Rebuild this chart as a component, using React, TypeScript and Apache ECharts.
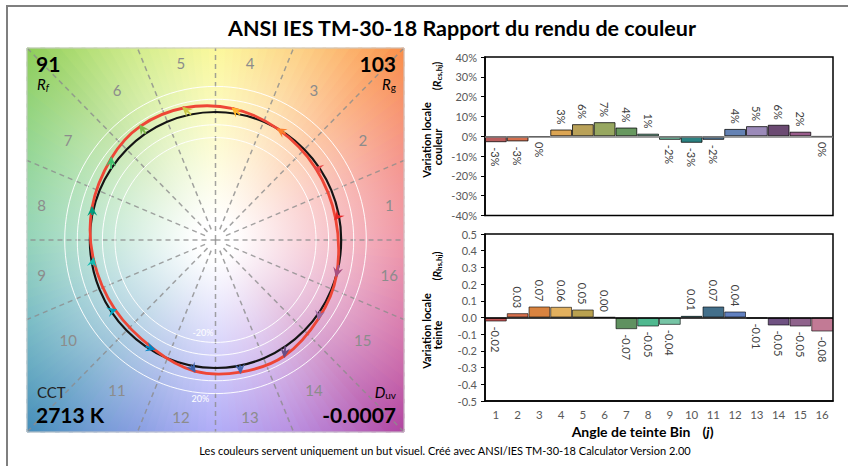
import { useEffect, useRef } from 'react';
import * as echarts from 'echarts';

const FONT = 'Lato, "Open Sans", "DejaVu Sans", sans-serif';

// ---------- data ----------
const binLabels = ['1', '2', '3', '4', '5', '6', '7', '8', '9', '10', '11', '12', '13', '14', '15', '16'];
// Local chroma shift R_cs,hj (%)
const chromaShiftPct = [-3.0, -2.6, -0.3, 3.4, 6.1, 7.1, 4.4, 1.3, -1.8, -3.3, -1.8, 3.7, 5.1, 5.8, 2.3, -0.2];
// Local hue shift R_hs,hj
const hueShift = [-0.024, 0.026, 0.066, 0.064, 0.048, 0.002, -0.07, -0.054, -0.044, 0.01, 0.066, 0.036, -0.006, -0.048, -0.054, -0.084];

const chromaBarColors = ['#b95c5c', '#d6704e', '#d98b48', '#dca553', '#b9a158', '#97a760', '#67985f', '#7cc2a6', '#6dbb9f', '#2b8282', '#4c7190', '#6482b4', '#9b8ab9', '#6b4a72', '#9a5c8c', '#b86a8a'];
const hueBarColors = ['#c05454', '#d8714e', '#d9833f', '#e2b05e', '#b9a150', '#97a760', '#5f9160', '#4fb88f', '#76c4a5', '#2b8a8a', '#436f8a', '#6281c0', '#8a78b0', '#6f5282', '#8f638c', '#c27a95'];
const binArrowColors = ['#e62828', '#e74b4b', '#fb812e', '#ffb529', '#cbca46', '#7eb94c', '#41c06d', '#009c7c', '#16bcb0', '#00a4bf', '#0085c3', '#3b62aa', '#4568ae', '#6a4e85', '#9d69a1', '#a74f81'];

// background hue wheel (every 22.5 deg, counter-clockwise from the right)
const panelHueColors = ['#e8647d', '#f06e64', '#fa8c46', '#fcc55f', '#faf56e', '#c3e664', '#8ccd55', '#6ec873', '#5fbe96', '#4ba5af', '#418cb9', '#5f7dd7', '#8c87f5', '#a069d7', '#af41a0', '#cd5091'];

const chromaAxis = { min: -40, max: 40, interval: 10 };
const hueAxis = { min: -0.5, max: 0.5, interval: 0.1 };
const ringLevels = [0.8, 0.9, 1.1, 1.2];

const fidelityIndex = '91';
const gamutIndex = '103';
const cctText = '2713 K';
const duvText = '-0.0007';

const titleText = 'ANSI IES TM-30-18 Rapport du rendu de couleur';
const footerText = 'Les couleurs servent uniquement un but visuel. Créé avec ANSI/IES TM-30-18 Calculator Version 2.00';

// ---------- helpers ----------
const DEG = Math.PI / 180;
const binAngle = (i: number) => (i + 0.5) * 22.5 * DEG;

const refPts = binLabels.map((_, i) => [Math.cos(binAngle(i)), Math.sin(binAngle(i))]);
const testPts = binLabels.map((_, i) => {
  const t = binAngle(i);
  const c = 1 + chromaShiftPct[i] / 100;
  const h = hueShift[i];
  return [c * Math.cos(t) - h * Math.sin(t), c * Math.sin(t) + h * Math.cos(t)];
});

function hexRgb(h: string) {
  const v = parseInt(h.slice(1), 16);
  return [(v >> 16) & 255, (v >> 8) & 255, v & 255];
}
function hueColorAt(angleDeg: number) {
  const a = ((angleDeg % 360) + 360) % 360;
  const k = a / 22.5;
  const i0 = Math.floor(k) % 16;
  const i1 = (i0 + 1) % 16;
  const f = k - Math.floor(k);
  const c0 = hexRgb(panelHueColors[i0]);
  const c1 = hexRgb(panelHueColors[i1]);
  const c = c0.map((v, j) => Math.round(v + (c1[j] - v) * f));
  return `rgb(${c[0]},${c[1]},${c[2]})`;
}

function makeRay(c: number[], u: number[], L: number, T: number, R: number, B: number) {
  return (aDeg: number) => {
    const dx = Math.cos(aDeg * DEG) * u[0];
    const dy = -Math.sin(aDeg * DEG) * u[1];
    let t = Infinity;
    if (dx > 1e-9) t = Math.min(t, (R - c[0]) / dx);
    if (dx < -1e-9) t = Math.min(t, (L - c[0]) / dx);
    if (dy > 1e-9) t = Math.min(t, (B - c[1]) / dy);
    if (dy < -1e-9) t = Math.min(t, (T - c[1]) / dy);
    return [c[0] + t * dx, c[1] + t * dy];
  };
}

function renderBackground(params: any, api: any) {
  const cs = params.coordSys;
  const L = cs.x, T = cs.y, R = cs.x + cs.width, B = cs.y + cs.height;
  const c = api.coord([0, 0]);
  const u = api.size([1, 1]);
  const ray = makeRay(c, u, L, T, R, B);
  const corners = [[R, T], [L, T], [L, B], [R, B]].map((p) => {
    let a = Math.atan2(-(p[1] - c[1]) / u[1], (p[0] - c[0]) / u[0]) / DEG;
    a = ((a % 360) + 360) % 360;
    return { p, a };
  });
  const children: any[] = [];
  const step = 2.5;
  for (let a = 0; a < 360; a += step) {
    const a0 = a - 0.4;
    const a1 = a + step + 0.4;
    const pts: number[][] = [c, ray(a0)];
    corners.forEach((k) => {
      const d = (((k.a - a0) % 360) + 360) % 360;
      if (d > 0 && d < a1 - a0) pts.push(k.p);
    });
    pts.push(ray(a1));
    const col = hueColorAt(a + step / 2);
    const grad = new echarts.graphic.RadialGradient(c[0], c[1], 272, [
      { offset: 0, color: '#ffffff' },
      { offset: 0.07, color: '#ffffff' },
      { offset: 1, color: col },
    ], true);
    children.push({ type: 'polygon', shape: { points: pts }, style: { fill: grad, stroke: grad, lineWidth: 0.6 } });
  }
  return { type: 'group', children };
}

function renderRings(params: any, api: any) {
  const cs = params.coordSys;
  const L = cs.x, T = cs.y, R = cs.x + cs.width, B = cs.y + cs.height;
  const c = api.coord([0, 0]);
  const u = api.size([1, 1]);
  const ray = makeRay(c, u, L, T, R, B);
  const children: any[] = [];
  for (let k = 0; k < 16; k++) {
    const a = k * 22.5;
    const p = ray(a);
    const full = k % 4 === 0;
    const s = full ? 0 : 0.09;
    const x0 = c[0] + s * Math.cos(a * DEG) * u[0];
    const y0 = c[1] - s * Math.sin(a * DEG) * u[1];
    children.push({
      type: 'line',
      shape: { x1: x0, y1: y0, x2: p[0], y2: p[1] },
      style: { stroke: 'rgba(140,140,140,0.8)', lineWidth: 1.5, lineDash: [5, 4] },
    });
  }
  ringLevels.forEach((r) => {
    children.push({
      type: 'ellipse',
      shape: { cx: c[0], cy: c[1], rx: r * u[0], ry: r * u[1] },
      style: { fill: 'none', stroke: 'rgba(255,255,255,0.95)', lineWidth: 1 },
    });
  });
  children.push({
    type: 'ellipse',
    shape: { cx: c[0], cy: c[1], rx: u[0], ry: u[1] },
    style: { fill: 'none', stroke: '#141414', lineWidth: 2.2 },
  });
  binLabels.forEach((lab, i) => {
    const t = binAngle(i);
    const x = c[0] + 1.41 * Math.cos(t) * u[0];
    const y = c[1] - 1.41 * Math.sin(t) * u[1];
    children.push({
      type: 'text', x, y,
      style: { text: lab, fill: '#8c8c8c', fontSize: 15, fontFamily: FONT, align: 'center', verticalAlign: 'middle', textAlign: 'center', textVerticalAlign: 'middle' },
    });
  });
  const pctLabels = [
    { text: '-20%', x: -0.1, y: -0.72 },
    { text: '20%', x: -0.12, y: -1.235 },
  ];
  pctLabels.forEach((p) => {
    const q = api.coord([p.x, p.y]);
    children.push({
      type: 'text', x: q[0], y: q[1],
      style: { text: p.text, fill: '#ffffff', fontSize: 9, fontFamily: FONT, align: 'center', verticalAlign: 'middle', textAlign: 'center', textVerticalAlign: 'middle' },
    });
  });
  return { type: 'group', children };
}

// closed Catmull-Rom curve through the test points, one bezier segment per bin
function renderCurve(params: any, api: any) {
  const n = testPts.length;
  const i = params.dataIndex;
  const P = (k: number) => api.coord(testPts[((k % n) + n) % n]);
  const p0 = P(i - 1), p1 = P(i), p2 = P(i + 1), p3 = P(i + 2);
  return {
    type: 'bezierCurve',
    shape: {
      x1: p1[0], y1: p1[1], x2: p2[0], y2: p2[1],
      cpx1: p1[0] + (p2[0] - p0[0]) / 6, cpy1: p1[1] + (p2[1] - p0[1]) / 6,
      cpx2: p2[0] - (p3[0] - p1[0]) / 6, cpy2: p2[1] - (p3[1] - p1[1]) / 6,
    },
    style: { fill: 'none', stroke: '#ee4636', lineWidth: 2.8, lineCap: 'round' },
  };
}

function renderArrow(params: any, api: any) {
  const i = params.dataIndex;
  const p0 = api.coord([api.value(0), api.value(1)]);
  const p1 = api.coord([api.value(2), api.value(3)]);
  let dx = p1[0] - p0[0];
  let dy = p1[1] - p0[1];
  let len = Math.hypot(dx, dy);
  if (len < 1e-6) { dx = 0; dy = -1; len = 1; }
  const ux = dx / len, uy = dy / len;
  const nx = -uy, ny = ux;
  const tip = [p1[0] + ux * 2, p1[1] + uy * 2];
  const headLen = 10, halfW = 5;
  const back = [tip[0] - ux * headLen, tip[1] - uy * headLen];
  const notch = [tip[0] - ux * headLen * 0.62, tip[1] - uy * headLen * 0.62];
  const color = binArrowColors[i];
  return {
    type: 'group',
    children: [
      { type: 'line', shape: { x1: p0[0], y1: p0[1], x2: p1[0], y2: p1[1] }, style: { stroke: color, lineWidth: 2 } },
      {
        type: 'polygon',
        shape: { points: [tip, [back[0] + nx * halfW, back[1] + ny * halfW], notch, [back[0] - nx * halfW, back[1] - ny * halfW]] },
        style: { fill: color },
      },
    ],
  };
}

function txt(x: number, y: number, text: string, o: any = {}) {
  const align = o.align || 'left';
  return {
    type: 'text', x, y, z: 100, rotation: o.rotation || 0, silent: true,
    style: {
      text,
      fill: o.fill || '#000',
      fontSize: o.size || 12,
      fontWeight: o.weight || 'normal',
      fontStyle: o.style || 'normal',
      fontFamily: FONT,
      lineHeight: o.lineHeight,
      align, textAlign: align,
      verticalAlign: 'middle', textVerticalAlign: 'middle',
      rich: o.rich,
    },
  };
}

function buildOption() {
  const arrowData = testPts.map((p, i) => [refPts[i][0], refPts[i][1], p[0], p[1]]);

  const labelBase = { show: true, rotate: -90, fontSize: 11, color: '#404040', fontFamily: FONT, distance: 5, verticalAlign: 'middle' };

  const chromaData = chromaShiftPct.map((v, i) => ({
    value: v,
    itemStyle: { color: chromaBarColors[i] },
    label: { position: v < 0 ? 'bottom' : 'top', align: v < 0 ? 'left' : 'right' },
  }));
  const hueData = hueShift.map((v, i) => ({
    value: v,
    itemStyle: { color: hueBarColors[i] },
    label: { position: v < 0 ? 'bottom' : 'top', align: v < 0 ? 'left' : 'right' },
  }));

  const sub = { fontSize: 8, fontWeight: 'bold', fontFamily: FONT, color: '#000', verticalAlign: 'bottom', lineHeight: 14 };
  const big = { fontSize: 11, fontWeight: 'bold', fontFamily: FONT, color: '#000', lineHeight: 14 };
  const bigI = { ...big, fontStyle: 'italic' };

  const statR = { fontSize: 15, fontStyle: 'italic', fontFamily: FONT, color: '#000', lineHeight: 15 };
  const statSub = { fontSize: 10, fontFamily: FONT, color: '#000', verticalAlign: 'bottom', lineHeight: 9 };
  const statSubI = { ...statSub, fontStyle: 'italic' };

  return {
    animation: false,
    textStyle: { fontFamily: FONT },
    grid: [
      { left: 27, top: 48, width: 377, height: 384, show: false },
      { left: 485, top: 57, width: 348, height: 158.5, show: true, borderColor: '#000', borderWidth: 1.5, backgroundColor: 'transparent' },
      { left: 485, top: 234, width: 348, height: 167, show: true, borderColor: '#000', borderWidth: 1.5, backgroundColor: 'transparent' },
    ],
    xAxis: [
      { gridIndex: 0, type: 'value', min: -1.5, max: 1.5, show: false },
      { gridIndex: 1, type: 'category', data: binLabels, axisLabel: { show: false }, axisTick: { show: false }, axisLine: { show: false } },
      {
        gridIndex: 2, type: 'category', data: binLabels,
        axisLabel: { fontSize: 11.5, color: '#595959', margin: 7, fontFamily: FONT },
        axisTick: { show: false },
        axisLine: { show: true, onZero: false, lineStyle: { color: '#000', width: 1.5 } },
      },
    ],
    yAxis: [
      { gridIndex: 0, type: 'value', min: -1.5, max: 1.5, show: false },
      {
        gridIndex: 1, type: 'value', ...chromaAxis,
        axisLabel: { formatter: '{value}%', fontSize: 11, color: '#595959', margin: 8, fontFamily: FONT },
        axisTick: { show: true, length: 4, lineStyle: { color: '#000' } },
        axisLine: { show: true, lineStyle: { color: '#000', width: 1.5 } },
        splitLine: { show: false },
      },
      {
        gridIndex: 2, type: 'value', ...hueAxis,
        axisLabel: { formatter: (v: number) => (Math.abs(v) < 1e-9 ? 0 : v).toFixed(1), fontSize: 11, color: '#595959', margin: 8, fontFamily: FONT },
        axisTick: { show: true, length: 4, lineStyle: { color: '#000' } },
        axisLine: { show: true, lineStyle: { color: '#000', width: 1.5 } },
        splitLine: { show: false },
      },
    ],
    series: [
      { type: 'custom', xAxisIndex: 0, yAxisIndex: 0, data: [[0, 0]], renderItem: renderBackground, silent: true, z: 1 },
      { type: 'custom', xAxisIndex: 0, yAxisIndex: 0, data: [[0, 0]], renderItem: renderRings, silent: true, z: 2 },
      { type: 'custom', xAxisIndex: 0, yAxisIndex: 0, data: testPts, renderItem: renderCurve, silent: true, z: 3 },
      {
        type: 'custom', xAxisIndex: 0, yAxisIndex: 0, data: arrowData, renderItem: renderArrow, silent: true, z: 4,
        encode: { x: [0, 2], y: [1, 3] },
      },
      {
        type: 'bar', xAxisIndex: 1, yAxisIndex: 1, data: chromaData, barCategoryGap: '0%',
        itemStyle: { borderColor: 'rgba(0,0,0,0.75)', borderWidth: 1 },
        label: { ...labelBase, formatter: (p: any) => `${Math.round(p.value)}%` },
        markLine: { silent: true, symbol: ['none', 'none'], label: { show: false }, lineStyle: { color: '#7f7f7f', type: 'solid', width: 1.5 }, data: [{ yAxis: 0 }] },
      },
      {
        type: 'bar', xAxisIndex: 2, yAxisIndex: 2, data: hueData, barCategoryGap: '0%',
        itemStyle: { borderColor: 'rgba(0,0,0,0.6)', borderWidth: 1 },
        label: { ...labelBase, formatter: (p: any) => { const s = p.value.toFixed(2); return s === '-0.00' ? '0.00' : s; } },
        markLine: { silent: true, symbol: ['none', 'none'], label: { show: false }, lineStyle: { color: '#000', type: 'solid', width: 1.5 }, data: [{ yAxis: 0 }] },
      },
    ],
    graphic: {
      elements: [
        { type: 'rect', z: 100, silent: true, shape: { x: 7, y: 6, width: 900, height: 500 }, style: { fill: 'none', stroke: '#7f7f7f', lineWidth: 2 } },
        { type: 'rect', z: 100, silent: true, shape: { x: 27, y: 48, width: 377, height: 384 }, style: { fill: 'none', stroke: '#c8c8c8', lineWidth: 1 } },
        txt(462, 28, titleText, { size: 21.5, weight: 'bold', align: 'center' }),
        txt(445, 450, footerText, { size: 11, align: 'center' }),
        // stats
        txt(36, 63, fidelityIndex, { size: 21, weight: 'bold', lineHeight: 20 }),
        txt(37, 84, '{r|R}{s|f}', { rich: { r: statR, s: statSubI } }),
        txt(396, 63, gamutIndex, { size: 21, weight: 'bold', align: 'right', lineHeight: 20 }),
        txt(396, 84, '{r|R}{s|g}', { align: 'right', rich: { r: statR, s: statSub } }),
        txt(37, 392, 'CCT', { size: 15, fill: '#222', lineHeight: 15 }),
        txt(36, 414, cctText, { size: 21, weight: 'bold', lineHeight: 20 }),
        txt(396, 392, '{r|D}{s|uv}', { align: 'right', rich: { r: statR, s: statSub } }),
        txt(396, 414, duvText, { size: 21, weight: 'bold', align: 'right', lineHeight: 20 }),
        // y titles
        txt(426, 140, 'Variation locale', { size: 11, weight: 'bold', align: 'center', rotation: Math.PI / 2 }),
        txt(437.5, 147, 'couleur', { size: 11, weight: 'bold', align: 'center', rotation: Math.PI / 2 }),
        txt(436, 76, '{b|(}{i|R}{s|cs,hj}{b|)}', { size: 11, align: 'center', rotation: Math.PI / 2, rich: { b: big, i: bigI, s: sub } }),
        txt(426, 331, 'Variation locale', { size: 11, weight: 'bold', align: 'center', rotation: Math.PI / 2 }),
        txt(437.5, 335, 'teinte', { size: 11, weight: 'bold', align: 'center', rotation: Math.PI / 2 }),
        txt(436, 266, '{b|(}{i|R}{s|hs,hj}{b|)}', { size: 11, align: 'center', rotation: Math.PI / 2, rich: { b: big, i: bigI, s: sub } }),
        // x title
        txt(631, 431, 'Angle de teinte Bin', { size: 14, weight: 'bold', align: 'center' }),
        txt(708, 431, '{b|(}{i|j}{b|)}', { size: 14, align: 'center', rich: { b: { fontSize: 14, fontWeight: 'bold', fontFamily: FONT }, i: { fontSize: 14, fontWeight: 'bold', fontStyle: 'italic', fontFamily: FONT } } }),
      ],
    },
  };
}

export default function App() {
  const ref = useRef<HTMLDivElement>(null);
  useEffect(() => {
    if (!ref.current) return;
    const chart = echarts.init(ref.current, undefined, { renderer: 'svg' });
    chart.setOption(buildOption() as any);
    return () => chart.dispose();
  }, []);
  return <div ref={ref} style={{ position: 'fixed', left: 0, top: 0, width: 848, height: 466, background: '#fff' }} />;
}
